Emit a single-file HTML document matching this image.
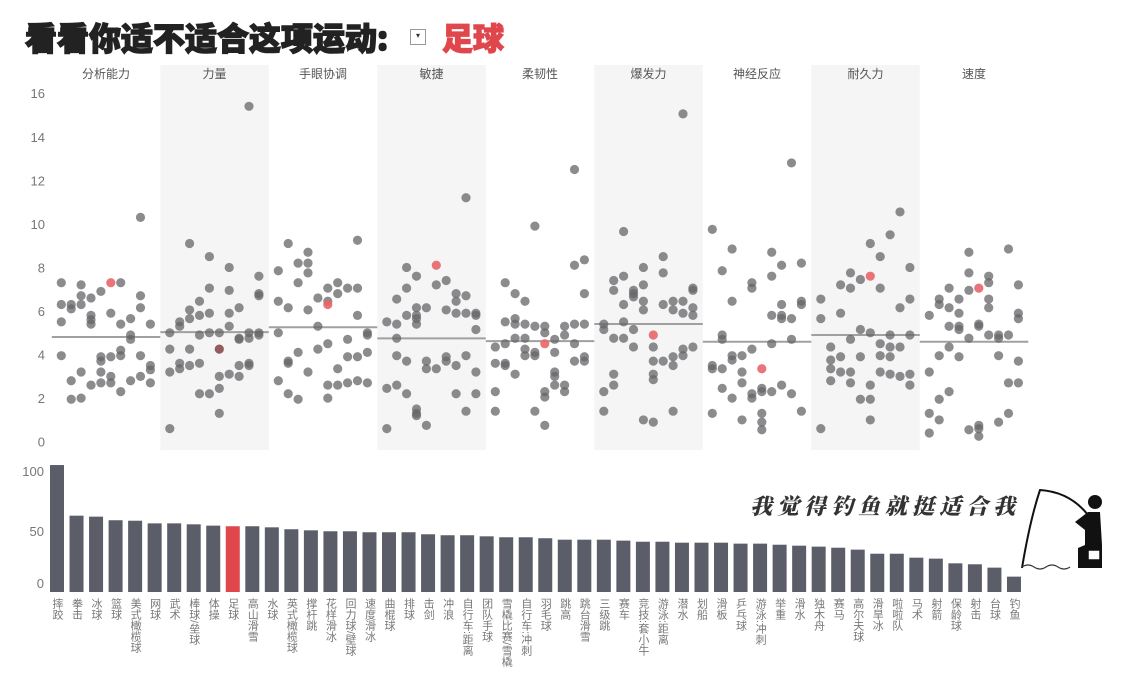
<!DOCTYPE html>
<html><head><meta charset="utf-8">
<style>
body{margin:0;background:#fff;}
#root{position:relative;width:1146px;height:692px;overflow:hidden;background:#fff;font-family:"Liberation Sans","Noto Sans CJK SC",sans-serif;}
.title{position:absolute;left:25px;top:15px;font-size:32px;font-weight:900;color:#222;font-family:"Noto Sans CJK SC","WenQuanYi Zen Hei",sans-serif;letter-spacing:0px;line-height:44px;-webkit-text-stroke:1.4px #222;}
.sel{position:absolute;left:410px;top:29px;width:14px;height:14px;border:1px solid #999;font-size:8px;line-height:12px;text-align:center;color:#333;}
.sport{position:absolute;left:442px;top:15px;font-size:31px;font-weight:900;color:#e0474c;font-family:"Noto Sans CJK SC",sans-serif;line-height:44px;-webkit-text-stroke:1.2px #e0474c;}
.blab{position:absolute;top:598px;writing-mode:vertical-rl;font-size:11px;color:#777;font-family:"Liberation Sans","Noto Sans CJK SC",sans-serif;line-height:12px;width:12px;}
.slogan{position:absolute;left:750px;top:490px;font-size:22px;font-weight:900;color:#333;font-family:"Noto Serif CJK SC",serif;letter-spacing:5px;font-style:italic;}
</style></head><body>
<div id="root">
<div class="title">看看你适不适合这项运动:</div>
<div class="sel">▾</div>
<div class="sport">足球</div>
<svg id="sc" width="1146" height="692" style="position:absolute;left:0;top:0"></svg>
<div class="slogan">我觉得钓鱼就挺适合我</div>
<div id="labels"></div>
</div>
<script>
const NS="http://www.w3.org/2000/svg";
const panelNames=["分析能力","力量","手眼协调","敏捷","柔韧性","爆发力","神经反应","耐久力","速度"];
const p0=[[7.3,6.3,5.5,3.95],[6.3,6.1,2.8,1.95],[7.2,6.7,6.3,3.2,2.0],[6.6,5.8,5.6,5.4,2.6],[6.9,3.9,3.7,3.2,2.7],[5.9,3.9,3.0,2.7],[7.3,5.4,4.2,3.95,2.3],[5.65,4.9,4.7,2.8],[10.3,6.7,6.15,3.95,3.0],[5.4,3.5,3.3,2.7]];
const p1=[[5.0,4.25,3.2,0.6],[5.5,5.3,3.6,3.35],[9.1,6.05,5.65,4.25,3.5],[6.45,5.8,4.9,3.6,2.2],[8.5,7.05,5.9,5.0,2.2],[5.0,3.0,2.45,1.3],[8.0,6.95,5.9,5.3,3.1],[6.15,4.75,4.7,3.5,3.0],[15.4,5.0,4.75,3.6,3.5],[7.6,6.8,6.7,5.0,4.9]];
const p2=[[7.85,6.45,5.0,2.8],[9.1,6.15,3.7,3.6,2.2],[8.2,7.3,4.1,1.95],[8.7,8.2,7.75,6.05,3.2],[6.6,5.3,4.25],[7.05,6.45,4.5,2.6,2.0],[7.3,6.8,3.35,2.6],[7.05,4.7,3.9,2.7],[9.25,7.05,5.8,3.9,2.8],[5.0,4.9,4.1,2.7]];
const p3=[[5.5,2.45,0.6],[6.55,5.4,4.75,3.95,2.6],[8.0,7.05,5.8,3.7,2.2],[7.6,6.15,5.8,5.65,5.4,1.5,1.3,1.2],[6.15,3.7,3.35,0.75],[7.2,3.35],[7.4,6.05,3.9,3.7],[6.8,6.45,5.9,3.5,2.2],[11.2,6.7,5.9,3.95,1.4],[5.9,5.8,5.15,3.2,2.2]];
const p4=[[4.35,3.6,2.3,1.4],[7.3,5.5,4.5,3.6,3.5],[6.8,5.65,5.4,4.75,3.1],[6.45,5.4,4.75,4.25,3.95],[9.9,5.3,4.1,3.95,1.4],[5.3,5.0,2.3,2.05,0.75],[4.7,4.1,3.2,3.0,2.6],[5.3,4.9,2.6,2.3],[12.5,8.1,5.4,4.5,3.7],[8.35,6.8,5.4,3.9,3.7]];
const p5=[[5.4,5.15,2.3,1.4],[7.4,6.95,4.75,3.1,2.6],[9.65,7.6,6.3,5.5,4.75],[6.95,6.8,6.65,5.15,4.35],[8.0,7.2,6.45,6.05,1.0],[4.35,3.7,3.1,2.85,0.9],[8.5,7.75,6.3,3.7],[6.45,6.05,3.9,3.5,1.4],[15.05,6.45,5.9,4.25,3.95],[7.05,6.95,6.15,5.8,4.35]];
const p6=[[9.75,3.5,3.35,1.3],[7.85,4.9,4.7,3.35,2.45],[8.85,6.45,3.95,3.75,2.0],[3.95,3.2,2.7,1.0],[7.3,7.05,4.25,2.2,2.0],[2.45,2.3,1.3,0.9,0.55],[8.7,7.6,5.8,4.5,2.3],[8.1,6.3,5.8,5.65,2.6],[12.8,5.65,4.7,2.2],[8.2,6.45,6.3,1.4]];
const p7=[[6.55,5.65,0.6],[4.35,3.75,3.35,2.8],[7.2,5.9,3.9,3.2],[7.75,7.05,4.7,3.2,2.7],[7.45,5.15,3.9,1.95],[9.1,5.0,2.6,1.95,1.0],[8.5,7.05,4.5,3.95,3.2],[9.5,4.9,4.35,3.9,3.1],[10.55,6.15,4.35,3.0],[8.0,6.55,4.9,3.1,2.6]];
const p8=[[5.8,3.2,1.3,0.4],[6.55,6.3,3.95,1.95,1.0],[7.05,6.15,5.3,4.35,2.3],[6.55,5.9,5.3,5.15,3.9],[8.7,7.75,6.95,4.75,0.55],[5.4,5.3,0.75,0.6,0.25],[7.6,7.3,6.55,6.15,4.9],[4.9,4.75,3.95,0.9],[8.85,4.9,2.7,1.3],[7.2,5.9,5.65,3.7,2.7]];
const panels=[p0,p1,p2,p3,p4,p5,p6,p7,p8];
const footballValues=[7.3,4.25,6.3,8.1,4.5,4.9,3.35,7.6,7.05];
const footballSlot=[5,5,5,5,5,5,5,5,5];
const yTicks=[0,2,4,6,8,10,12,14,16];

const sports=["摔跤","拳击","冰球","篮球","美式橄榄球","网球","武术","棒球/垒球","体操","足球","高山滑雪","水球","英式橄榄球","撑杆跳","花样滑冰","回力球/壁球","速度滑冰","曲棍球","排球","击剑","冲浪","自行车:距离","团队手球","雪橇比赛/雪橇","自行车:冲刺","羽毛球","跳高","跳台滑雪","三级跳","赛车","竞技:套小牛","游泳:距离","潜水","划船","滑板","乒乓球","游泳:冲刺","举重","滑水","独木舟","赛马","高尔夫球","滑旱冰","啦啦队","马术","射箭","保龄球","射击","台球","钓鱼"];
const totals=[105.8,63.6,62.8,59.8,59.4,57.2,57.2,56.4,55.3,54.8,54.8,53.9,52.3,51.4,50.6,50.6,49.8,49.8,49.8,48.1,47.3,47.3,46.4,45.6,45.6,44.8,43.6,43.6,43.6,42.8,41.9,41.9,41.1,41.1,41.1,40.3,40.3,39.4,38.6,37.8,36.9,35.3,31.9,31.9,28.6,27.8,23.9,23.1,20.3,12.8];
const barTicks=[0,50,100];
const highlight="足球";

const svg=document.getElementById('sc');
function mk(tag,attrs,parent){const e=document.createElementNS(NS,tag);for(const k in attrs)e.setAttribute(k,attrs[k]);(parent||svg).appendChild(e);return e;}
const PL=51.8,PW=108.5,Y0=441.7,KY=21.78;
const sy=v=>Y0-v*KY;
const sx=(p,c)=>PL+p*PW+9.5+c*9.9;
panelNames.forEach((n,p)=>{
  if(p%2===1){const r=mk('rect',{x:PL+p*PW,y:65,width:PW,height:385,fill:'#f5f5f5'});
    
    }
  const t=mk('text',{x:PL+p*PW+PW/2,y:78,'text-anchor':'middle','font-size':12,fill:'#555','font-family':'"Liberation Sans","Noto Sans CJK SC",sans-serif'});
  t.textContent=n;
  
  
});
yTicks.forEach(v=>{
  const t=mk('text',{x:45,y:sy(v)+5,'text-anchor':'end','font-size':13,fill:'#777','font-family':'"Liberation Sans",sans-serif'});
  t.textContent=v;
  
  
});
panels.forEach((cols,p)=>{
  let s=0,n=0;
  cols.forEach(c=>c.forEach(v=>{s+=v;n++;}));
  s+=footballValues[p];n++;
  const m=s/n;
  const ln=mk('line',{x1:PL+p*PW,x2:PL+(p+1)*PW,y1:sy(m),y2:sy(m),stroke:'#a0a0a0','stroke-width':2});
  
  
  cols.forEach((c,ci)=>c.forEach(v=>{
    const d=mk('circle',{cx:sx(p,ci),cy:sy(v),r:4.6,fill:'#666669','fill-opacity':0.75});
    
    
  }));
  const f=mk('circle',{cx:sx(p,footballSlot[p]),cy:sy(footballValues[p]),r:4.6,fill:p===1?'#8a4a4c':'#e8666a','fill-opacity':0.9});
  
  
});
const BB=592,KB=1.2,BX=50,BP=19.53,BW=14;
const by=v=>BB-v*KB;
barTicks.forEach((v,i)=>{
  const t=mk('text',{x:44,y:by(v)+(i===0?-4:4),'text-anchor':'end','font-size':13,fill:'#777','font-family':'"Liberation Sans",sans-serif'});
  t.textContent=v;
  
  
});
const lab=document.getElementById('labels');
sports.forEach((s,i)=>{
  const r=mk('rect',{x:BX+i*BP,y:by(totals[i]),width:BW,height:totals[i]*KB,fill:s===highlight?'#e0474c':'#5b5e69'});
  
  
  const d=document.createElement('div');
  d.className='blab';
  d.style.left=(BX+i*BP+1)+'px';
  d.textContent=s;
  
  
  lab.appendChild(d);
});
const g=mk('g',{});


mk('path',{d:'M1022 568 Q1030 520 1040 490 Q1070 492 1088 515',fill:'none',stroke:'#111','stroke-width':2},g);
mk('circle',{cx:1095,cy:502,r:7,fill:'#111'},g);
mk('path',{d:'M1088 512 L1100 512 L1102 545 L1085 545 L1085 530 L1075 522 Z',fill:'#111'},g);
mk('path',{d:'M1085 545 L1102 545 L1102 568 L1078 568 L1078 548 Z',fill:'#111'},g);
mk('rect',{x:1088,y:550,width:12,height:10,fill:'#fff',stroke:'#111','stroke-width':1.5},g);
mk('path',{d:'M1022 567 q6 -4 12 0 t12 0 t12 0 t12 0',fill:'none',stroke:'#333','stroke-width':1.2},g);
</script>
</body></html>
